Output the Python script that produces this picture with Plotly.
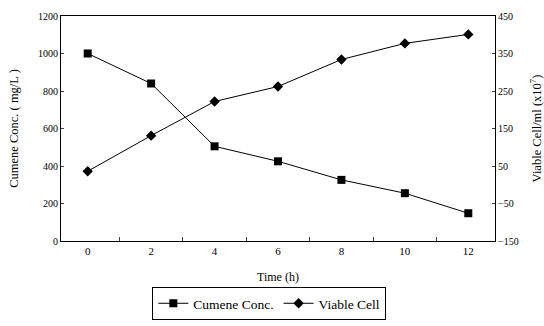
import plotly.graph_objects as go

time_labels = ["0", "2", "4", "6", "8", "10", "12"]
cumene_conc = [1000, 840, 505, 425, 326, 255, 148]
viable_cell = [36, 131, 222, 262, 334, 377, 401]

FONT = "Liberation Serif"

fig = go.Figure()
fig.add_trace(go.Scatter(
    x=time_labels, y=cumene_conc, name="Cumene Conc.", mode="lines+markers",
    line=dict(color="black", width=1),
    marker=dict(symbol="square", size=8, color="black"),
    yaxis="y",
))
fig.add_trace(go.Scatter(
    x=time_labels, y=viable_cell, name="Viable Cell", mode="lines+markers",
    line=dict(color="black", width=1),
    marker=dict(symbol="diamond", size=8, color="black"),
    yaxis="y2",
))

fig.update_layout(
    width=544, height=326,
    margin=dict(l=61, r=49, t=16, b=85),
    paper_bgcolor="white", plot_bgcolor="white",
    font=dict(family=FONT, size=11, color="black"),
    showlegend=True,
    legend=dict(
        orientation="h", x=0.48, xanchor="center",
        yref="container", y=(326 - 287) / 326, yanchor="top",
        bordercolor="black", borderwidth=1, font=dict(size=13.5, family=FONT),
        itemwidth=30, tracegroupgap=0,
    ),
    xaxis=dict(
        type="category", tickson="boundaries", ticks="inside", ticklen=4,
        showline=True, linecolor="black", linewidth=1, mirror=True,
        showgrid=False, zeroline=False, automargin=False,
        title=dict(text="Time (h)", font=dict(size=12), standoff=16),
        tickfont=dict(size=11),
    ),
    yaxis=dict(
        range=[0, 1200], tickmode="linear", tick0=0, dtick=200,
        ticks="inside", ticklen=3,
        showline=True, linecolor="black", linewidth=1,
        showgrid=False, zeroline=False, automargin=False,
        title=dict(text="Cumene Conc. ( mg/L )", font=dict(size=12.5), standoff=16),
        tickfont=dict(size=10),
    ),
    yaxis2=dict(
        range=[-150, 450], tickmode="linear", tick0=-150, dtick=100,
        ticks="inside", ticklen=3,
        overlaying="y", side="right",
        showline=True, linecolor="black", linewidth=1,
        showgrid=False, zeroline=False, automargin=False,
        title=dict(text="Viable Cell/ml (x10<sup>7</sup>)", font=dict(size=12.5), standoff=14),
        tickfont=dict(size=10),
    ),
)

fig.write_html("out.html", config={"displayModeBar": False})

with open("out.html", "r", encoding="utf-8") as f:
    html = f.read()
html = html.replace("<head>", "<head><style>html,body{margin:0;padding:0;overflow:hidden;}</style>", 1)
with open("out.html", "w", encoding="utf-8") as f:
    f.write(html)
